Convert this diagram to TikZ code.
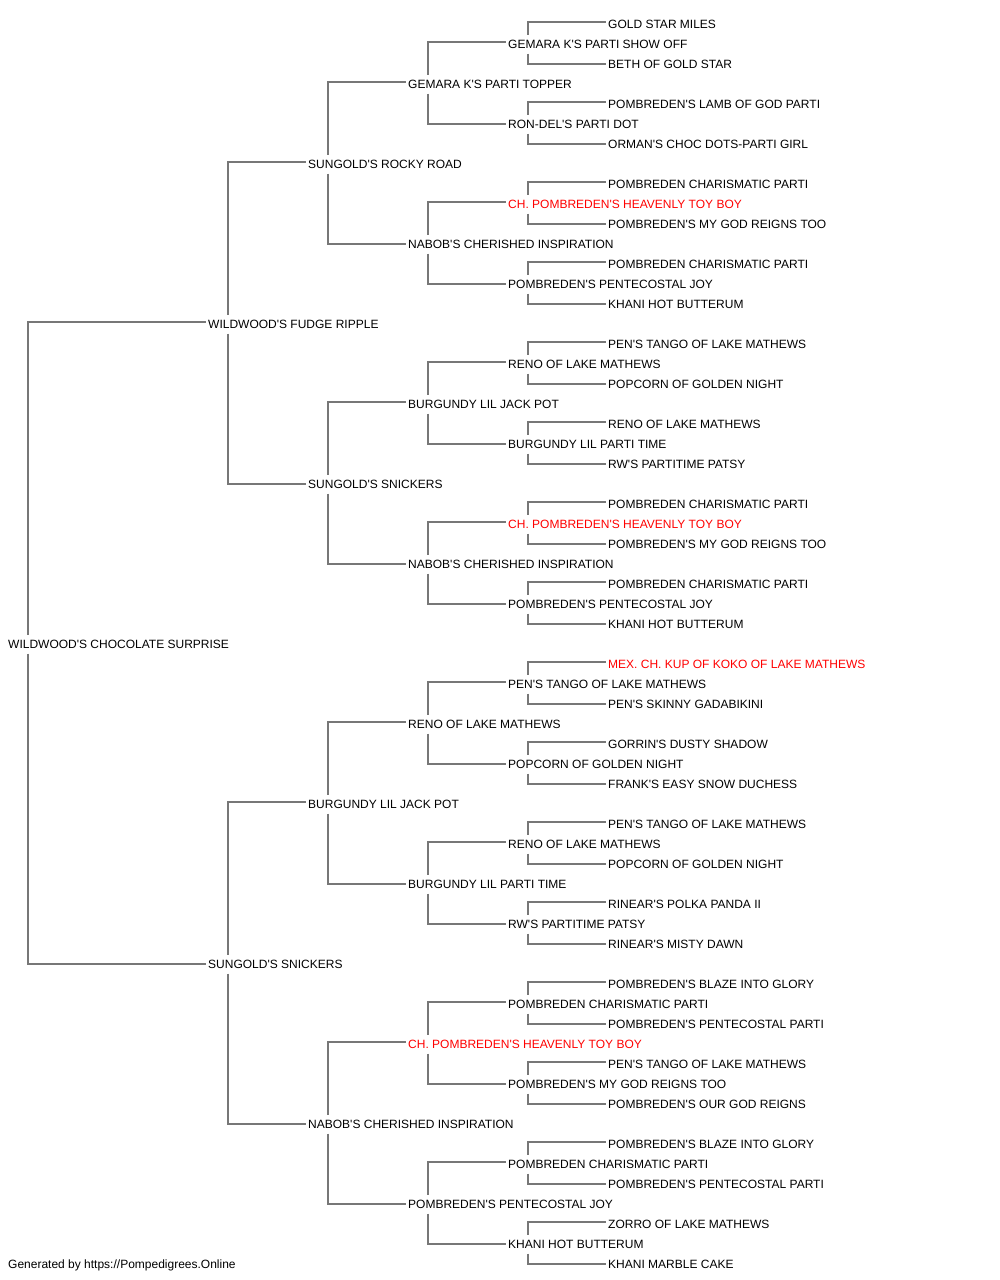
\documentclass[tikz,border=0pt]{standalone}
\usepackage{fontspec}
\setmainfont{Liberation Sans}[Ligatures=TeXOff]
\definecolor{linegray}{RGB}{119,119,119}
\definecolor{champ}{RGB}{255,0,0}
\begin{document}
\begin{tikzpicture}[x=1pt,y=1pt,
  lab/.style={anchor=base west, inner sep=0pt, text height=8.6pt, text depth=0pt, font=\fontsize{12pt}{14pt}\selectfont},
  champion/.style={lab, text=champ},
  conn/.style={draw=linegray, line width=1.8pt}]
\useasboundingbox (0,0) rectangle (1000,-1280);
\begin{scope}[yshift=-1pt]
% generation 0
\node[lab] (n0r31) at (8,-647) {WILDWOOD'S CHOCOLATE SURPRISE};
% generation 1
\node[lab] (n1r15) at (208,-327) {WILDWOOD'S FUDGE RIPPLE};
\node[lab] (n1r47) at (208,-967) {SUNGOLD'S SNICKERS};
% generation 2
\node[lab] (n2r7)  at (308,-167) {SUNGOLD'S ROCKY ROAD};
\node[lab] (n2r23) at (308,-487) {SUNGOLD'S SNICKERS};
\node[lab] (n2r39) at (308,-807) {BURGUNDY LIL JACK POT};
\node[lab] (n2r55) at (308,-1127) {NABOB'S CHERISHED INSPIRATION};
% generation 3
\node[lab] (n3r3)  at (408,-87) {GEMARA K'S PARTI TOPPER};
\node[lab] (n3r11) at (408,-247) {NABOB'S CHERISHED INSPIRATION};
\node[lab] (n3r19) at (408,-407) {BURGUNDY LIL JACK POT};
\node[lab] (n3r27) at (408,-567) {NABOB'S CHERISHED INSPIRATION};
\node[lab] (n3r35) at (408,-727) {RENO OF LAKE MATHEWS};
\node[lab] (n3r43) at (408,-887) {BURGUNDY LIL PARTI TIME};
\node[champion] (n3r51) at (408,-1047) {CH. POMBREDEN'S HEAVENLY TOY BOY};
\node[lab] (n3r59) at (408,-1207) {POMBREDEN'S PENTECOSTAL JOY};
% generation 4
\node[lab] (n4r1)  at (508,-47) {GEMARA K'S PARTI SHOW OFF};
\node[lab] (n4r5)  at (508,-127) {RON-DEL'S PARTI DOT};
\node[champion] (n4r9) at (508,-207) {CH. POMBREDEN'S HEAVENLY TOY BOY};
\node[lab] (n4r13) at (508,-287) {POMBREDEN'S PENTECOSTAL JOY};
\node[lab] (n4r17) at (508,-367) {RENO OF LAKE MATHEWS};
\node[lab] (n4r21) at (508,-447) {BURGUNDY LIL PARTI TIME};
\node[champion] (n4r25) at (508,-527) {CH. POMBREDEN'S HEAVENLY TOY BOY};
\node[lab] (n4r29) at (508,-607) {POMBREDEN'S PENTECOSTAL JOY};
\node[lab] (n4r33) at (508,-687) {PEN'S TANGO OF LAKE MATHEWS};
\node[lab] (n4r37) at (508,-767) {POPCORN OF GOLDEN NIGHT};
\node[lab] (n4r41) at (508,-847) {RENO OF LAKE MATHEWS};
\node[lab] (n4r45) at (508,-927) {RW'S PARTITIME PATSY};
\node[lab] (n4r49) at (508,-1007) {POMBREDEN CHARISMATIC PARTI};
\node[lab] (n4r53) at (508,-1087) {POMBREDEN'S MY GOD REIGNS TOO};
\node[lab] (n4r57) at (508,-1167) {POMBREDEN CHARISMATIC PARTI};
\node[lab] (n4r61) at (508,-1247) {KHANI HOT BUTTERUM};
% generation 5
\node[lab] (n5r0)  at (608,-27) {GOLD STAR MILES};
\node[lab] (n5r2)  at (608,-67) {BETH OF GOLD STAR};
\node[lab] (n5r4)  at (608,-107) {POMBREDEN'S LAMB OF GOD PARTI};
\node[lab] (n5r6)  at (608,-147) {ORMAN'S CHOC DOTS-PARTI GIRL};
\node[lab] (n5r8)  at (608,-187) {POMBREDEN CHARISMATIC PARTI};
\node[lab] (n5r10) at (608,-227) {POMBREDEN'S MY GOD REIGNS TOO};
\node[lab] (n5r12) at (608,-267) {POMBREDEN CHARISMATIC PARTI};
\node[lab] (n5r14) at (608,-307) {KHANI HOT BUTTERUM};
\node[lab] (n5r16) at (608,-347) {PEN'S TANGO OF LAKE MATHEWS};
\node[lab] (n5r18) at (608,-387) {POPCORN OF GOLDEN NIGHT};
\node[lab] (n5r20) at (608,-427) {RENO OF LAKE MATHEWS};
\node[lab] (n5r22) at (608,-467) {RW'S PARTITIME PATSY};
\node[lab] (n5r24) at (608,-507) {POMBREDEN CHARISMATIC PARTI};
\node[lab] (n5r26) at (608,-547) {POMBREDEN'S MY GOD REIGNS TOO};
\node[lab] (n5r28) at (608,-587) {POMBREDEN CHARISMATIC PARTI};
\node[lab] (n5r30) at (608,-627) {KHANI HOT BUTTERUM};
\node[champion] (n5r32) at (608,-667) {MEX. CH. KUP OF KOKO OF LAKE MATHEWS};
\node[lab] (n5r34) at (608,-707) {PEN'S SKINNY GADABIKINI};
\node[lab] (n5r36) at (608,-747) {GORRIN'S DUSTY SHADOW};
\node[lab] (n5r38) at (608,-787) {FRANK'S EASY SNOW DUCHESS};
\node[lab] (n5r40) at (608,-827) {PEN'S TANGO OF LAKE MATHEWS};
\node[lab] (n5r42) at (608,-867) {POPCORN OF GOLDEN NIGHT};
\node[lab] (n5r44) at (608,-907) {RINEAR'S POLKA PANDA II};
\node[lab] (n5r46) at (608,-947) {RINEAR'S MISTY DAWN};
\node[lab] (n5r48) at (608,-987) {POMBREDEN'S BLAZE INTO GLORY};
\node[lab] (n5r50) at (608,-1027) {POMBREDEN'S PENTECOSTAL PARTI};
\node[lab] (n5r52) at (608,-1067) {PEN'S TANGO OF LAKE MATHEWS};
\node[lab] (n5r54) at (608,-1107) {POMBREDEN'S OUR GOD REIGNS};
\node[lab] (n5r56) at (608,-1147) {POMBREDEN'S BLAZE INTO GLORY};
\node[lab] (n5r58) at (608,-1187) {POMBREDEN'S PENTECOSTAL PARTI};
\node[lab] (n5r60) at (608,-1227) {ZORRO OF LAKE MATHEWS};
\node[lab] (n5r62) at (608,-1267) {KHANI MARBLE CAKE};
% footer
\node[lab] (footer) at (8,-1267) {Generated by https://Pompedigrees.Online};
\end{scope}
% connectors: parent generation / row / offset to children
\foreach \g/\k/\o in {0/31/16,
  1/15/8, 1/47/8,
  2/7/4, 2/23/4, 2/39/4, 2/55/4,
  3/3/2, 3/11/2, 3/19/2, 3/27/2, 3/35/2, 3/43/2, 3/51/2, 3/59/2,
  4/1/1, 4/5/1, 4/9/1, 4/13/1, 4/17/1, 4/21/1, 4/25/1, 4/29/1,
  4/33/1, 4/37/1, 4/41/1, 4/45/1, 4/49/1, 4/53/1, 4/57/1, 4/61/1}{
  \pgfmathtruncatemacro\h{\g+1}
  \pgfmathtruncatemacro\s{\k-\o}
  \pgfmathtruncatemacro\d{\k+\o}
  \draw[conn] ([xshift=20pt,yshift=9pt]n\g r\k.west) |- ([xshift=-2pt,yshift=1.7pt]n\h r\s.west);
  \draw[conn] ([xshift=20pt,yshift=-10pt]n\g r\k.west) |- ([xshift=-2pt,yshift=-0.2pt]n\h r\d.west);
}
\end{tikzpicture}
\end{document}
